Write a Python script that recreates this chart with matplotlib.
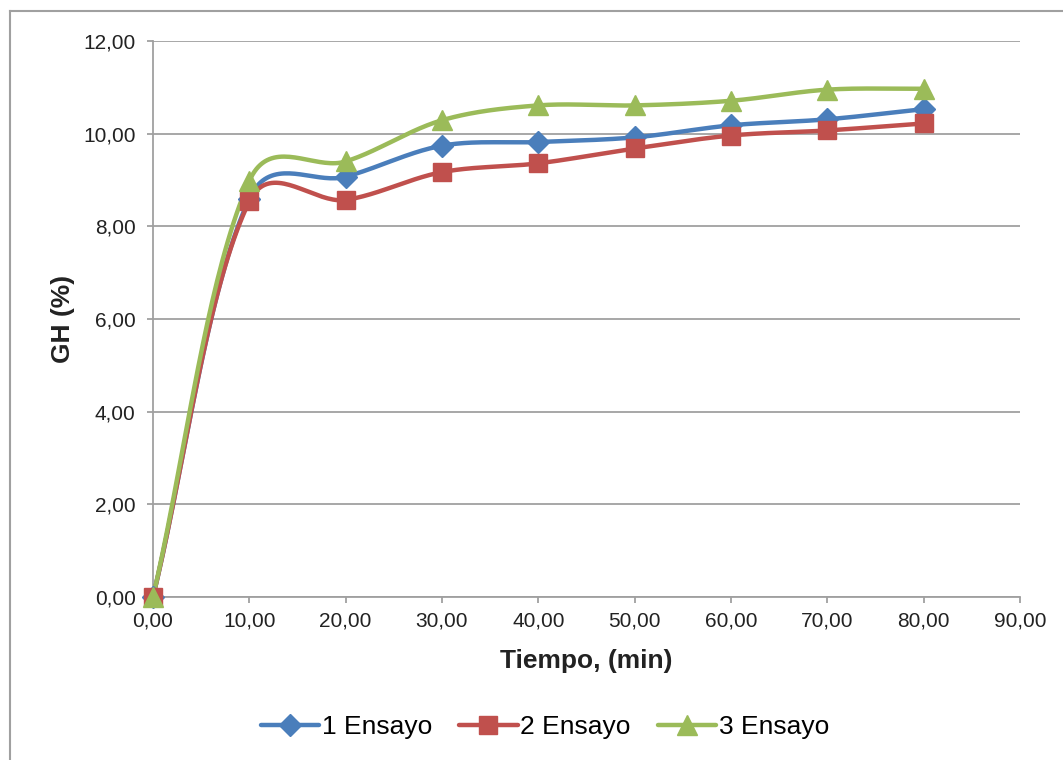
import numpy as np
import matplotlib
matplotlib.use("Agg")
import matplotlib.pyplot as plt
from matplotlib.ticker import FuncFormatter, MultipleLocator
from matplotlib.lines import Line2D

plt.rcParams['font.family'] = ['Liberation Sans', 'DejaVu Sans']

tiempo = [0, 10, 20, 30, 40, 50, 60, 70, 80]
ensayo_1 = [0.0, 8.60, 9.07, 9.74, 9.82, 9.92, 10.18, 10.31, 10.53]
ensayo_2 = [0.0, 8.54, 8.57, 9.17, 9.36, 9.68, 9.96, 10.07, 10.22]
ensayo_3 = [0.0, 8.98, 9.40, 10.29, 10.61, 10.61, 10.71, 10.95, 10.97]
series_names = ["1 Ensayo", "2 Ensayo", "3 Ensayo"]
colors = ["#4A7EBB", "#C0504D", "#9BBB59"]
markers = ["D", "s", "^"]
msizes = [11, 13, 14]

# pixels per data unit, used so the smoothing works in screen space
SX, SY = 867 / 90, 556 / 12


def smooth(x, y, n=40):
    # Excel-like smoothed line: bezier segments, tangents weighted by segment length
    pts = np.column_stack([np.asarray(x, float) * SX, np.asarray(y, float) * SY])
    npts = len(pts)
    seglen = np.sqrt(np.hypot(*np.diff(pts, axis=0).T))
    out = []
    t = np.linspace(0, 1, n)[:, None]
    for i in range(npts - 1):
        p1, p2 = pts[i], pts[i + 1]
        if i > 0:
            d = pts[i + 1] - pts[i - 1]
            w = seglen[i] / (seglen[i - 1] + seglen[i])
            b1 = p1 + d * w / 3
        else:
            b1 = p1 + (p2 - p1) / 3
        if i + 2 < npts:
            d = pts[i + 2] - pts[i]
            w = seglen[i] / (seglen[i] + seglen[i + 1])
            b2 = p2 - d * w / 3
        else:
            b2 = p2 - (p2 - p1) / 3
        seg = ((1 - t) ** 3) * p1 + 3 * ((1 - t) ** 2) * t * b1 + 3 * (1 - t) * t ** 2 * b2 + t ** 3 * p2
        out.append(seg if i == 0 else seg[1:])
    out = np.vstack(out)
    return out[:, 0] / SX, out[:, 1] / SY


fig = plt.figure(figsize=(10.63, 7.6), dpi=100)
ax = fig.add_axes([153 / 1063, 163 / 760, 867 / 1063, 556 / 760])

# outer chart border (left and top visible)
fig.add_artist(Line2D([10 / 1063, 10 / 1063], [0, 1 - 11 / 760], color="#A0A0A0", lw=1.5))
fig.add_artist(Line2D([10 / 1063, 1], [1 - 11 / 760, 1 - 11 / 760], color="#A0A0A0", lw=1.5))

handles = []
for ys, c, m, ms, name in zip([ensayo_1, ensayo_2, ensayo_3], colors, markers, msizes, series_names):
    sx, sy = smooth(tiempo, ys)
    ax.plot(sx, sy, color=c, lw=3.2, solid_capstyle="round", zorder=3, clip_on=False)
    ax.plot(tiempo, ys, linestyle="none", marker=m, color=c, markersize=ms, zorder=4, clip_on=False)
    handles.append(Line2D([], [], color=c, lw=3.2, marker=m, markersize=ms, solid_capstyle="round"))

ax.set_xlim(0, 90)
ax.set_ylim(0, 12)
ax.xaxis.set_major_locator(MultipleLocator(10))
ax.yaxis.set_major_locator(MultipleLocator(2))
fmt = FuncFormatter(lambda v, p: f"{v:.2f}".replace(".", ","))
ax.xaxis.set_major_formatter(fmt)
ax.yaxis.set_major_formatter(fmt)

ax.grid(axis="y", color="#A0A0A0", lw=1.3)
ax.set_axisbelow(True)
for s in ["top", "right"]:
    ax.spines[s].set_visible(False)
for s in ["left", "bottom"]:
    ax.spines[s].set_color("#A0A0A0")
    ax.spines[s].set_linewidth(1.3)
    ax.spines[s].set_zorder(2)
ax.tick_params(axis="both", direction="out", length=4.5, width=1.3, color="#A0A0A0",
               labelsize=15, labelcolor="#222222")
ax.tick_params(axis="x", pad=6)
ax.tick_params(axis="y", pad=8)

ax.set_xlabel("Tiempo, (min)", fontsize=19, fontweight="bold", color="#222222", labelpad=13)
ax.set_ylabel("GH (%)", fontsize=19, fontweight="bold", color="#222222", labelpad=6)

fig.legend(handles=handles, labels=series_names, loc="center", bbox_to_anchor=(545 / 1063, 1 - 727 / 760),
           ncol=3, frameon=False, fontsize=19, handlelength=2.2, handletextpad=0.1, columnspacing=1.05)

fig.savefig("out.png", dpi=100)
